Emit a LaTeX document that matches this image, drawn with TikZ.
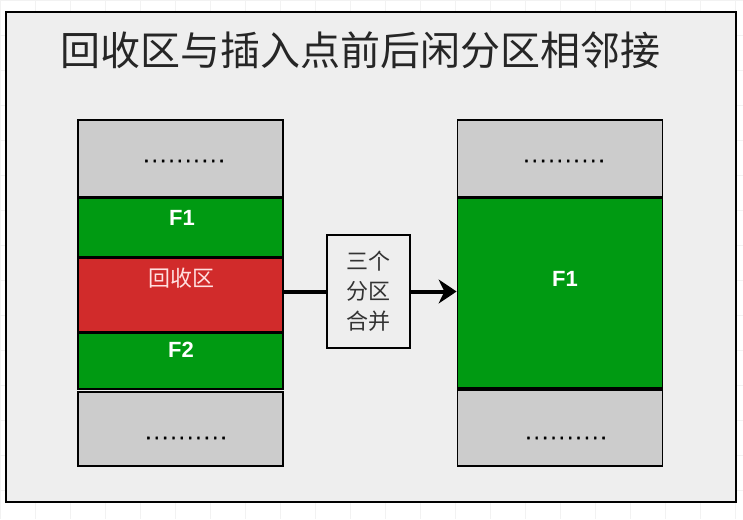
\documentclass[tikz,border=0pt]{standalone}
\usepackage{fontspec}
\setmainfont{Liberation Sans}
\newfontfamily\cjk{Noto Sans CJK SC}
\newfontfamily\chamfont[LetterSpace=14,FakeBold=2]{Liberation Sans}
\usetikzlibrary{arrows.meta}
\definecolor{nen}{HTML}{EEEEEE}
\definecolor{xam}{HTML}{CCCCCC}
\definecolor{xanh}{HTML}{009A12}
\definecolor{do}{HTML}{D12B2B}
\tikzset{
  khoi/.style={draw, line width=1.8pt, minimum width=205pt, inner sep=0pt},
  chu/.style={text=white, font=\bfseries\fontsize{22}{24}\selectfont},
  cham/.style={font=\chamfont\fontsize{20}{22}\selectfont, inner sep=0pt}
}
\begin{document}
\begin{tikzpicture}[x=1pt, y=-1pt, >=Stealth]
  \useasboundingbox (0,0) rectangle (743,519);
  \draw[gray!10, step=35pt] (0,0) grid (743,519); % luoi nen
  \draw[fill=nen, line width=2.4pt] (6,12) rectangle (736,502); % khung ngoai
  \node[font=\cjk\fontsize{40}{44}\selectfont, text=black!85] (tieude) at (360,50) {回收区与插入点前后闲分区相邻接};
  % cot trai
  \node[khoi, fill=xam, minimum height=77pt] (g1) at (180.5,158.5) {};
  \node[khoi, fill=xanh, minimum height=59pt] (f1) at (180.5,227.5) {};
  \node[khoi, fill=do, minimum height=74pt] (rc) at (180.5,295) {};
  \node[khoi, fill=xanh, minimum height=56pt] (f2) at (180.5,361) {};
  \node[khoi, fill=xam, minimum height=74pt] (g2) at (180.5,429) {};
  \node[chu] (tf1) at (182,218) {F1};
  \node[text=white!88!red, font=\cjk\fontsize{22}{24}\selectfont] (trc) at (181,278) {回收区};
  \node[chu] (tf2) at (181,350) {F2};
  \node[cham] (c1) at (184,161) {..........};
  \node[cham] (c2) at (186,438) {..........};
  % cot phai
  \node[khoi, fill=xam, minimum height=77pt] (g3) at (560,158.5) {};
  \node[khoi, fill=xanh, minimum height=190pt] (f3) at (560,293) {};
  \node[khoi, fill=xam, minimum height=76pt] (g4) at (560,428) {};
  \node[chu] (tf3) at (565,279) {F1};
  \node[cham] (c3) at (564,161) {..........};
  \node[cham] (c4) at (566,438) {..........};
  % hop giua
  \node[draw, fill=nen, line width=1.8pt, minimum width=83pt, minimum height=113pt,
        align=center, text=black!80, font=\cjk\fontsize{22}{30}\selectfont] (hop) at (368.5,291.5) {三个\\分区\\合并};
  \draw[line width=4pt] (hop.west -| rc.east) -- (hop.west);
  \draw[line width=4pt, -{Stealth[length=18pt,width=24pt]}] (hop.east) -- (hop.east -| f3.west);
\end{tikzpicture}
\end{document}
